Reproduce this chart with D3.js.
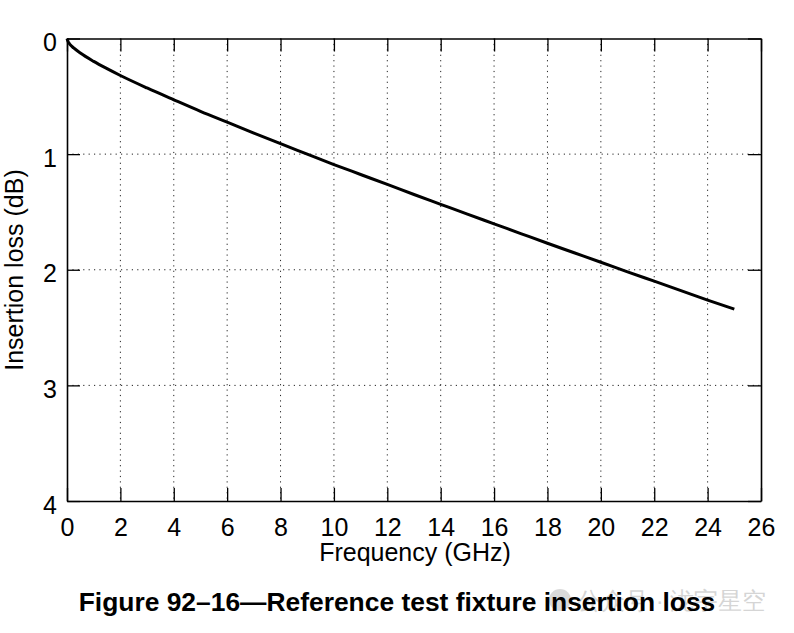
<!DOCTYPE html>
<html>
<head>
<meta charset="utf-8">
<script src="https://cdn.jsdelivr.net/npm/d3@7"></script>
<style>
  body { margin: 0; background: #fff; }
  text { font-family: "Liberation Sans", Arial, sans-serif; }
</style>
</head>
<body>
<svg width="794" height="633"></svg>
<script>
// values
const freq = [0, 0.05, 0.1, 0.25, 0.5, 1, 1.5, 2, 3, 4, 5, 6, 7, 8, 9, 10, 11, 12, 13, 14, 15, 16, 17, 18, 19, 20, 21, 22, 23, 24, 25];
const loss = [0, 0.032, 0.048, 0.082, 0.126, 0.198, 0.261, 0.32, 0.428, 0.53, 0.63, 0.724, 0.818, 0.91, 1.0, 1.09, 1.176, 1.262, 1.349, 1.434, 1.519, 1.603, 1.687, 1.771, 1.853, 1.935, 2.018, 2.099, 2.18, 2.262, 2.34];
const xTicks = [0, 2, 4, 6, 8, 10, 12, 14, 16, 18, 20, 22, 24, 26];
const yTicks = [0, 1, 2, 3, 4];

let svg = d3.select('svg');
let mLeft = 67, mTop = 38.5, mRight = 761, mBottom = 501;
let width = mRight - mLeft, height = mBottom - mTop;

let xScale = d3.scaleLinear().domain([0, 26]).range([0, width]);
let yScale = d3.scaleLinear().domain([0, 4]).range([0, height]);

let g = svg.append('g').attr('transform', 'translate(' + mLeft + ',' + mTop + ')');

// dotted grid
g.selectAll('.vgrid').data(xTicks.slice(1, -1)).enter().append('line')
  .attr('x1', d => xScale(d)).attr('x2', d => xScale(d))
  .attr('y1', 0).attr('y2', height)
  .attr('stroke', '#222').attr('stroke-width', 1).attr('stroke-dasharray', '1.2,4.2');
g.selectAll('.hgrid').data(yTicks.slice(1, -1)).enter().append('line')
  .attr('y1', d => yScale(d)).attr('y2', d => yScale(d))
  .attr('x1', 0).attr('x2', width)
  .attr('stroke', '#222').attr('stroke-width', 1).attr('stroke-dasharray', '1.2,4.2');

// axes with inward ticks on all four sides
let tk = 13;
let fmt = d3.format('d');
g.append('g').attr('transform', 'translate(0,' + height + ')')
  .call(d3.axisBottom(xScale).tickValues(xTicks).tickFormat(fmt).tickSizeInner(-tk).tickSizeOuter(0).tickPadding(17))
  .call(a => a.selectAll('text').attr('font-size', 25).attr('fill', '#000'));
g.append('g')
  .call(d3.axisTop(xScale).tickValues(xTicks).tickSizeInner(-tk).tickSizeOuter(0).tickFormat(''));
g.append('g')
  .call(d3.axisLeft(yScale).tickValues(yTicks).tickFormat(fmt).tickSizeInner(-tk).tickSizeOuter(0).tickPadding(10))
  .call(a => a.selectAll('text').attr('font-size', 25).attr('fill', '#000').attr('dy', '0.48em'));
g.append('g').attr('transform', 'translate(' + width + ',0)')
  .call(d3.axisRight(yScale).tickValues(yTicks).tickSizeInner(-tk).tickSizeOuter(0).tickFormat(''));
g.selectAll('.domain').attr('stroke', '#000').attr('stroke-width', 1.6);
g.selectAll('.tick line').attr('stroke', '#000').attr('stroke-width', 1.3);

// curve
let line = d3.line().x((d, i) => xScale(freq[i])).y(d => yScale(d)).curve(d3.curveMonotoneX);
g.append('path').datum(loss)
  .attr('d', line).attr('fill', 'none').attr('stroke', '#000').attr('stroke-width', 3);

// axis titles
svg.append('text').attr('x', 415).attr('y', 561)
  .attr('text-anchor', 'middle').attr('font-size', 25).text('Frequency (GHz)');
svg.append('text').attr('transform', 'translate(23,270) rotate(-90)')
  .attr('text-anchor', 'middle').attr('font-size', 25).text('Insertion loss (dB)');

// watermark
let wm = svg.append('g').attr('opacity', 0.3);
wm.append('circle').attr('cx', 560).attr('cy', 600).attr('r', 11).attr('fill', '#888');
wm.append('text').attr('x', 577).attr('y', 609).attr('font-size', 24).attr('fill', '#777')
  .attr('font-family', '"Noto Sans CJK SC", sans-serif').text('公众号 · 泷宇星空');

// caption
svg.append('text').attr('x', 397).attr('y', 611)
  .attr('text-anchor', 'middle').attr('font-size', 26.4).attr('font-weight', 'bold')
  .text('Figure 92–16—Reference test fixture insertion loss');
</script>
</body>
</html>
